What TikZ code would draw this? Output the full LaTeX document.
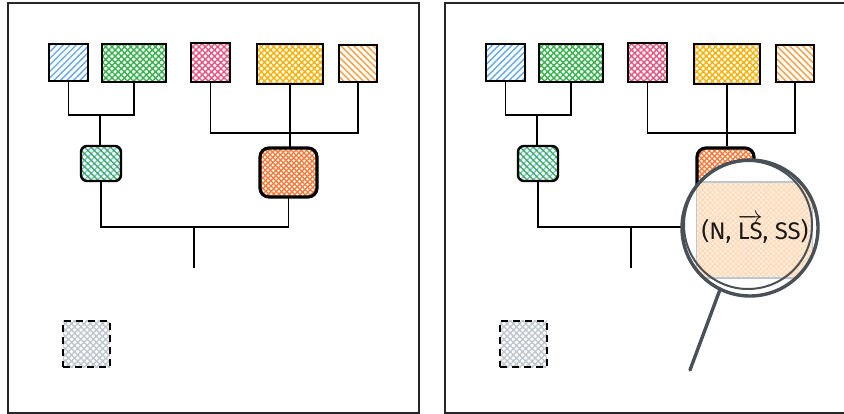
\documentclass[tikz,border=0pt]{standalone}
\usepackage{fontspec}
\setmainfont{Fira Sans}
\usetikzlibrary{patterns.meta}
\definecolor{hblue}{HTML}{5FA8EE}
\definecolor{hgreen}{HTML}{37B24D}
\definecolor{hpink}{HTML}{E8567F}
\definecolor{hyellow}{HTML}{FAB005}
\definecolor{horange}{HTML}{FF9A3C}
\definecolor{hdorange}{HTML}{FD7E14}
\definecolor{hred}{HTML}{FF6B6B}
\definecolor{hgrey}{HTML}{BFC6CE}
\definecolor{maggrey}{HTML}{495057}
\definecolor{paleor}{HTML}{FFF0E4}
\tikzset{
  box/.style={draw=black, line width=2pt, inner sep=0pt},
  thickbox/.style={box, line width=2.8pt},
  linesfill/.style={pattern={Lines[angle=#1,distance=4.6pt,line width=1.4pt]}},
  crossfill/.style={pattern={Hatch[angle=45,distance=4.4pt,line width=1.4pt]}},
  conn/.style={draw=black, line width=1.6pt},
  frame/.style={draw=black!85, line width=1.8pt},
}
\begin{document}
\begin{tikzpicture}[x=1pt,y=-1pt]
\useasboundingbox (0,0) rectangle (844,414);
\clip (0,0) rectangle (844,414);
\foreach \ox in {0,437}{
\begin{scope}[xshift=\ox]
  \draw[frame] (8,3) rectangle (419,413);
  % top row
  \node[box, linesfill=45, pattern color=hblue, minimum width=39pt, minimum height=37pt] (b1\ox) at (68.5,62.5) {};
  \node[thickbox, crossfill, pattern color=hgreen, minimum width=64pt, minimum height=38pt] (b2\ox) at (134,63) {};
  \node[box, line width=2.4pt, crossfill, pattern color=hpink, minimum width=39pt, minimum height=39pt] (b3\ox) at (210.5,62.5) {};
  \node[thickbox, crossfill, pattern color=hyellow, minimum width=66pt, minimum height=40pt] (b4\ox) at (290,64) {};
  \node[box, linesfill=-45, pattern color=horange, minimum width=38pt, minimum height=37pt] (b5\ox) at (358,63.5) {};
  % middle row
  \node[box, line width=2.4pt, rounded corners=6pt, preaction={linesfill=45, pattern color=hblue!80}, linesfill=-45, pattern color=hgreen, minimum width=40pt, minimum height=35pt] (m1\ox) at (101,163.5) {};
  \node[box, line width=3.2pt, rounded corners=9pt, preaction={pattern={Lines[angle=45,distance=3.8pt,line width=1.3pt]}, pattern color=hred}, pattern={Lines[angle=-45,distance=3.6pt,line width=1.3pt]}, pattern color=hdorange, minimum width=57pt, minimum height=49pt] (m2\ox) at (288.5,172.5) {};
  % dashed grey
  \node[box, line width=1.8pt, dashed, dash pattern=on 7pt off 5pt, crossfill, pattern color=hgrey, minimum width=47pt, minimum height=46pt] (d\ox) at (86.5,344) {};
  % junctions
  \coordinate (j1\ox) at (100,115);
  \coordinate (j2\ox) at (288,133);
  \coordinate (j3\ox) at (194,227);
  \coordinate (e\ox) at (194,268);
  \draw[conn] (b1\ox.south) |- (j1\ox);
  \draw[conn] (b2\ox.south) |- (j1\ox);
  \draw[conn] (j1\ox) -- (j1\ox |- m1\ox.north);
  \draw[conn] (b3\ox.south) |- (j2\ox);
  \draw[conn] (b5\ox.south) |- (j2\ox);
  \draw[conn] (b4\ox.south) -- (b4\ox.south |- m2\ox.north);
  \draw[conn] (m1\ox.south) |- (j3\ox);
  \draw[conn] (m2\ox.south) |- (j3\ox);
  \draw[conn] (j3\ox) -- (e\ox);
\end{scope}
}
% magnifier
\node[circle, fill=white, minimum size=136pt, inner sep=0pt] (mag) at (750,228) {};
\begin{scope}
  \clip (750,228) circle (68pt);
  \node[draw=hgrey, line width=1.4pt, fill=paleor, preaction={fill=paleor}, pattern={Hatch[angle=45,distance=3.6pt,line width=0.9pt]}, pattern color=horange!40, minimum width=116pt, minimum height=96pt, inner sep=0pt] (zoomrect) at (754.5,230) {};
\end{scope}
\node[font=\fontsize{24}{28}\selectfont, text=black!90] (txt) at (755,229) {(N, $\overrightarrow{\hbox{LS}}$, SS)};
\draw[draw=maggrey, line width=3.4pt] (mag) circle (68pt);
\draw[draw=maggrey, line width=2pt] (748,225) circle (64pt);
\coordinate (handleend) at (690,370);
\draw[draw=maggrey, line width=3.4pt, line cap=round] (mag.244) -- (handleend);
\end{tikzpicture}
\end{document}
